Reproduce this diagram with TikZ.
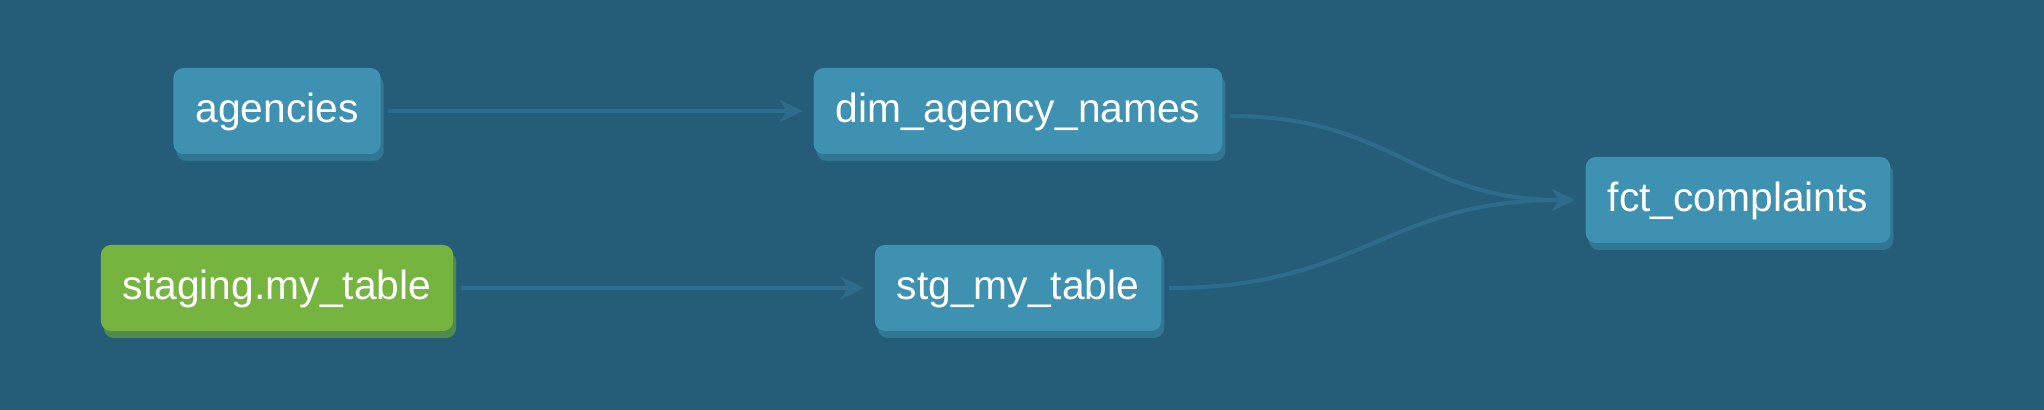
\documentclass[tikz,border=0pt]{standalone}
\usepackage{fontspec}
\setmainfont{Liberation Sans}
\usepackage{tikz}
\usetikzlibrary{arrows.meta, positioning, shadows}
\definecolor{bgblue}{RGB}{37, 93, 121}
\definecolor{nodeblue}{RGB}{62, 145, 176}
\definecolor{nodeshade}{RGB}{50, 118, 146}
\definecolor{nodegreen}{RGB}{118, 180, 64}
\definecolor{greenshade}{RGB}{80, 138, 76}
\definecolor{edgeblue}{RGB}{45, 109, 139}

\begin{document}
\begin{tikzpicture}[
    x=0.1mm, y=-0.1mm,
    model/.style={rectangle, rounded corners=1mm, fill=nodeblue, text=white,
        inner xsep=2.2mm, inner ysep=0pt, minimum height=8.6mm,
        text height=0.86em, text depth=0.2em,
        font=\fontsize{11.6}{14}\selectfont,
        drop shadow={shadow xshift=0.3mm, shadow yshift=-0.7mm, fill=nodeshade, opacity=1}},
    source/.style={model, fill=nodegreen,
        drop shadow={shadow xshift=0.3mm, shadow yshift=-0.7mm, fill=greenshade, opacity=1}},
    edge/.style={draw=edgeblue, line width=0.4mm, -{Stealth[length=2.3mm, width=2.2mm, inset=0.7mm]},
        shorten <=0.7mm, shorten >=1mm}
]
    \fill[bgblue] (0,0) rectangle (2044,410);
    \useasboundingbox (0,0) rectangle (2044,410);

    \node[model] (agencies) at (277, 111) {agencies};
    \node[source] (staging) at (277, 288) {staging.my\_table};
    \node[model] (dim) at (1018, 111) {dim\_agency\_names};
    \node[model] (stg) at (1018, 288) {stg\_my\_table};
    \node[model] (fct) at (1738, 200) {fct\_complaints};

    \draw[edge] (agencies.east) -- (dim.west);
    \draw[edge] (staging.east) -- (stg.west);
    \draw[edge] ([yshift=-0.5mm]dim.east) .. controls +(170,0) and +(-170,0) .. (fct.west);
    \draw[edge] (stg.east) .. controls +(200,0) and +(-200,0) .. (fct.west);
\end{tikzpicture}
\end{document}
